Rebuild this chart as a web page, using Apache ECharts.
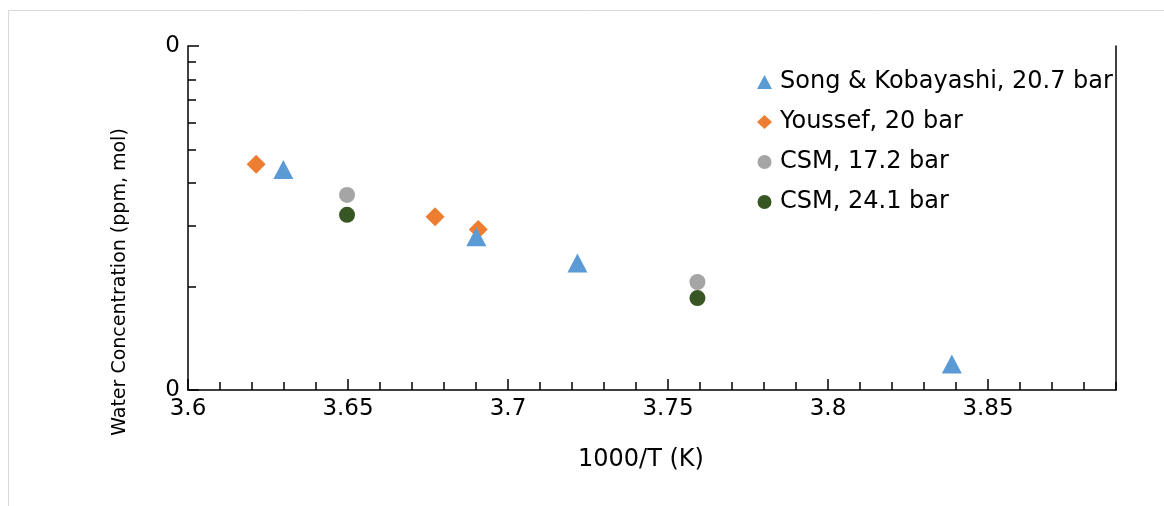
<!DOCTYPE html>
<html>
<head>
<meta charset="utf-8">
<script src="https://cdn.jsdelivr.net/npm/echarts@6/dist/echarts.min.js"></script>
<style>
html,body{margin:0;padding:0;background:#fff;}
#chart{width:1164px;height:506px;}
</style>
</head>
<body>
<div id="chart"></div>
<script>
// ---- data ----
const seriesNames = ['Song & Kobayashi, 20.7 bar', 'Youssef, 20 bar', 'CSM, 17.2 bar', 'CSM, 24.1 bar'];
const songX = [3.6298, 3.6901, 3.7217, 3.8387];
const songY = [0.04375, 0.0279, 0.0234, 0.0119];
const youssefX = [3.6213, 3.6772, 3.6907];
const youssefY = [0.0453, 0.0319, 0.0293];
const csm172X = [3.6497, 3.7592];
const csm172Y = [0.0369, 0.0206];
const csm241X = [3.6497, 3.7592];
const csm241Y = [0.0323, 0.0185];
// ticks
const xMajorTicks = [3.6, 3.65, 3.7, 3.75, 3.8, 3.85];
const xMinorTicks = [3.61,3.62,3.63,3.64,3.66,3.67,3.68,3.69,3.71,3.72,3.73,3.74,3.76,3.77,3.78,3.79,3.81,3.82,3.83,3.84,3.86,3.87,3.88,3.89];
const yMajorTicks = [0.01, 0.1];
const yMinorTicks = [0.02,0.03,0.04,0.05,0.06,0.07,0.08,0.09];
const xMin = 3.6, xMax = 3.89, yMin = 0.01, yMax = 0.1;

const zip = (xs, ys) => xs.map((x, i) => [x, ys[i]]);
const FONT = 'DejaVu Sans';
const chart = echarts.init(document.getElementById('chart'), null, {renderer: 'canvas'});

const baseX = {type: 'value', min: xMin, max: xMax, gridIndex: 0, position: 'bottom', splitLine: {show: false}};
const baseY = {type: 'log', logBase: 10, min: yMin, max: yMax, gridIndex: 0, splitLine: {show: false}};

chart.setOption({
  animation: false,
  backgroundColor: '#fff',
  textStyle: {fontFamily: FONT},
  graphic: [{
    type: 'rect', silent: true, z: -10,
    shape: {x: 8.5, y: 10.5, width: 1300, height: 700},
    style: {fill: 'none', stroke: '#d9d9d9', lineWidth: 1}
  }],
  grid: {left: 188, right: 48, top: 46, bottom: 116, containLabel: false},
  legend: {
    orient: 'vertical', left: 757, top: 69, padding: 0,
    itemWidth: 15, itemHeight: 14, itemGap: 14,
    data: seriesNames,
    textStyle: {fontFamily: FONT, fontSize: 24, color: '#000', lineHeight: 26, padding: [0, 0, 0, 3]}
  },
  xAxis: [
    Object.assign({}, baseX, {
      name: '1000/T (K)', nameLocation: 'middle', nameGap: 58,
      nameTextStyle: {fontFamily: FONT, fontSize: 24, color: '#000', padding: [0, 22, 0, 0]},
      axisLine: {show: true, onZero: false, lineStyle: {color: '#000', width: 1.5}},
      axisTick: {show: true, inside: true, length: 11, customValues: xMajorTicks, lineStyle: {color: '#000', width: 1.5}},
      axisLabel: {fontFamily: FONT, fontSize: 23, color: '#000', margin: 8, customValues: xMajorTicks}
    }),
    Object.assign({}, baseX, {
      axisLine: {show: false},
      axisTick: {show: true, inside: true, length: 8, customValues: xMinorTicks, lineStyle: {color: '#000', width: 1.5}},
      axisLabel: {show: false}
    })
  ],
  yAxis: [
    Object.assign({}, baseY, {
      position: 'left',
      name: 'Water Concentration (ppm, mol)', nameLocation: 'middle', nameGap: 58, nameRotate: 90,
      nameTextStyle: {fontFamily: FONT, fontSize: 19, color: '#000', padding: [0, 128, 0, 0]},
      axisLine: {show: true, onZero: false, lineStyle: {color: '#000', width: 1.5}},
      axisTick: {show: true, inside: true, length: 11, customValues: yMajorTicks, lineStyle: {color: '#000', width: 1.5}},
      axisLabel: {fontFamily: FONT, fontSize: 23, color: '#000', margin: 8, customValues: yMajorTicks,
        formatter: v => Number(v).toFixed(0)}
    }),
    Object.assign({}, baseY, {
      position: 'left',
      axisLine: {show: false},
      axisTick: {show: true, inside: true, length: 8, customValues: yMinorTicks, lineStyle: {color: '#000', width: 1.5}},
      axisLabel: {show: false}
    }),
    Object.assign({}, baseY, {
      position: 'right',
      axisLine: {show: true, onZero: false, lineStyle: {color: '#000', width: 1.5}},
      axisTick: {show: false},
      axisLabel: {show: false}
    })
  ],
  series: [
    {name: seriesNames[0], type: 'scatter', symbol: 'triangle', symbolSize: [20, 19], z: 5,
     itemStyle: {color: '#5B9BD5', opacity: 1}, data: zip(songX, songY)},
    {name: seriesNames[1], type: 'scatter', symbol: 'diamond', symbolSize: [19, 19], z: 2,
     itemStyle: {color: '#ED7D31', opacity: 1}, data: zip(youssefX, youssefY)},
    {name: seriesNames[2], type: 'scatter', symbol: 'circle', symbolSize: 16, z: 3,
     itemStyle: {color: '#A5A5A5', opacity: 1}, data: zip(csm172X, csm172Y)},
    {name: seriesNames[3], type: 'scatter', symbol: 'circle', symbolSize: 16, z: 4,
     itemStyle: {color: '#375623', opacity: 1}, data: zip(csm241X, csm241Y)}
  ]
});
</script>
</body>
</html>
